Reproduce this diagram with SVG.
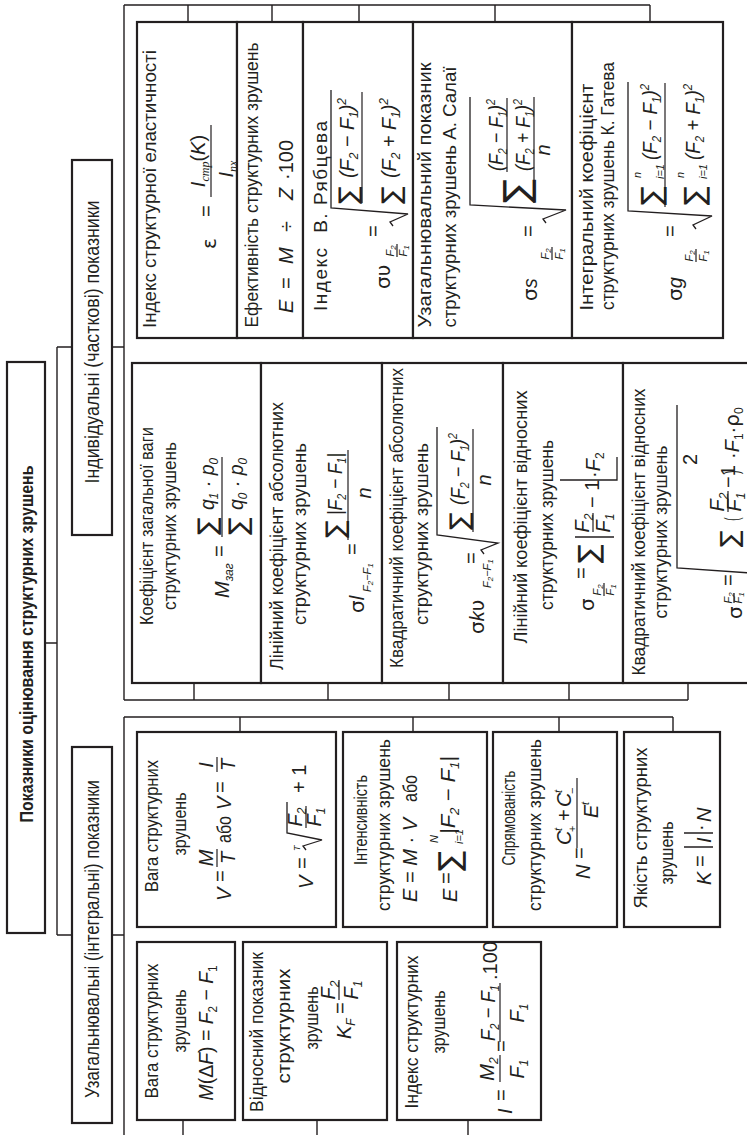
<svg xmlns="http://www.w3.org/2000/svg" width="747" height="1135" viewBox="0 0 747 1135">
<style>
.bx{fill:#fff;stroke:#231f20;stroke-width:2.2}
.ln{fill:none;stroke:#231f20;stroke-width:1.4}
.rl{fill:none;stroke:#231f20;stroke-width:1.3}
.fl{stroke:#231f20;stroke-width:1.2}
text{fill:#231f20;font-family:"Liberation Sans",Arial,sans-serif}
.t{font-size:19px;text-anchor:middle}
.h{font-size:20px;text-anchor:middle}
.f{font-size:20px}
.m{text-anchor:middle}
.i{font-style:italic}
.sb{font-size:12px;baseline-shift:-4px}
.sp{font-size:12px;baseline-shift:8px}
.s{font-size:11px}
.sg{font-family:"DejaVu Sans",sans-serif}
.gr{font-family:"DejaVu Sans","Liberation Sans",sans-serif}
.ss{font-size:8px;baseline-shift:-2px}
</style>
<rect x="0" y="0" width="747" height="1135" fill="#fff"/>
<g transform="translate(0,1135) rotate(-90)">
<g id="connectors" class="ln">
<path d="M200 57H788M492 45V57M788 57V72M788 112V124M200 57V72M200 112V124"/>
<path d="M435 124H1130M1130 124V650M1130 188H1113M1130 272H1113M1130 359H1113M1130 495H1113M1130 650H1113"/>
<path d="M435 124V688M435 194H452M435 328H452M435 449H452M435 569H452M435 688H452"/>
<path d="M-5 124H418M418 124V673M418 240H403M418 413H403M418 559H403M418 673H403"/>
<path d="M15 183H-5M15 317H-5M15 468H-5"/>
</g>
<g id="title"><rect class="bx" x="202" y="7" width="571" height="38"/><text x="491" y="33" text-anchor="middle" font-size="17.5" font-weight="bold" textLength="357" lengthAdjust="spacingAndGlyphs">Показники оцінювання структурних зрушень</text></g>
<g id="label-individual"><rect class="bx" x="600" y="72" width="375" height="40"/><text class="h" x="793" y="99" textLength="283" lengthAdjust="spacingAndGlyphs">Індивідуальні (часткові) показники</text></g>
<g id="label-integral"><rect class="bx" x="12" y="72" width="376" height="40"/><text class="h" x="196" y="99" textLength="318" lengthAdjust="spacingAndGlyphs">Узагальнювальні (інтегральні) показники</text></g>

<g id="node-elasticity"><rect class="bx" x="797" y="137" width="316" height="100"/>
<text class="t" x="946" y="156" textLength="278" lengthAdjust="spacingAndGlyphs">Індекс структурної еластичності</text>
<text class="f gr" x="886" y="216" font-size="22">ε</text>
<text class="f" x="918" y="213">=</text>
<text class="f m" x="974" y="205"><tspan class="i">I</tspan><tspan class="sb i" font-family="Liberation Serif">стр</tspan>(<tspan class="i">K</tspan>)</text>
<line class="fl" x1="938" y1="211" x2="1010" y2="211"/>
<text class="f m" x="966" y="233"><tspan class="i">I</tspan><tspan class="sb i" font-family="Liberation Serif">пх</tspan></text>
</g>

<g id="node-efficiency"><rect class="bx" x="797" y="237" width="316" height="66"/>
<text class="t" x="950" y="258" textLength="285" lengthAdjust="spacingAndGlyphs">Ефективність структурних зрушень</text>
<text class="f i" x="822" y="293" font-size="21">E</text>
<text class="f" x="846" y="293">=</text>
<text class="f i" x="871" y="293" font-size="21">M</text>
<text class="f" x="903" y="293">÷</text>
<text class="f i" x="935" y="293" font-size="21">Z</text>
<text class="f" x="955" y="293" font-size="21">·100</text>
</g>

<g id="node-ryabtsev"><rect class="bx" x="797" y="303" width="316" height="110"/>
<text class="t" x="919" y="327" xml:space="preserve" textLength="190" lengthAdjust="spacing">Індекс  В. Рябцева</text>
<text class="f gr" x="846" y="390" font-size="21">συ</text>
<text class="s i m" x="884" y="394">F<tspan class="ss">2</tspan></text><line class="fl" x1="878" y1="397" x2="891" y2="397"/><text class="s i m" x="884" y="407">F<tspan class="ss">1</tspan></text>
<text class="f" x="898" y="380">=</text>
<path class="rl" d="M909 393L913 390L921 408L927 331H1045"/>
<text class="sg" x="931" y="357" font-size="26">∑</text>
<text class="f i" x="957" y="354" textLength="80" lengthAdjust="spacingAndGlyphs">(F<tspan class="sb">2</tspan> − F<tspan class="sb">1</tspan>)<tspan class="sp">2</tspan></text>
<line class="fl" x1="932" y1="362" x2="1043" y2="362"/>
<text class="sg" x="931" y="400" font-size="26">∑</text>
<text class="f i" x="957" y="396" textLength="80" lengthAdjust="spacingAndGlyphs">(F<tspan class="sb">2</tspan> + F<tspan class="sb">1</tspan>)<tspan class="sp">2</tspan></text>
</g>

<g id="node-salai"><rect class="bx" x="797" y="413" width="316" height="159"/>
<text class="t" x="940" y="431" textLength="265" lengthAdjust="spacingAndGlyphs">Узагальнювальний показник</text>
<text class="t" x="938" y="456" textLength="261" lengthAdjust="spacingAndGlyphs">структурних зрушень А. Салаї</text>
<text class="f" x="834" y="537" font-size="21"><tspan class="gr">σ</tspan><tspan class="i">s</tspan></text>
<text class="s i m" x="881" y="549">F<tspan class="ss">2</tspan></text><line class="fl" x1="875" y1="552" x2="888" y2="552"/><text class="s i m" x="881" y="563">F<tspan class="ss">1</tspan></text>
<text class="f" x="898" y="535">=</text>
<path class="rl" d="M912 546L916 543L925 566L930 470H1038"/>
<text class="sg" x="932" y="529" font-size="36">∑</text>
<text class="f i m" x="1000" y="503" font-size="17" textLength="72" lengthAdjust="spacingAndGlyphs">(F<tspan class="sb">2</tspan> − F<tspan class="sb">1</tspan>)<tspan class="sp">2</tspan></text>
<line class="fl" x1="963" y1="507" x2="1037" y2="507"/>
<text class="f i m" x="1000" y="530" font-size="17" textLength="72" lengthAdjust="spacingAndGlyphs">(F<tspan class="sb">2</tspan> + F<tspan class="sb">1</tspan>)<tspan class="sp">2</tspan></text>
<line class="fl" x1="932" y1="534" x2="1038" y2="534"/>
<text class="f i m" x="985" y="550">n</text>
</g>

<g id="node-gatev"><rect class="bx" x="797" y="572" width="316" height="151"/>
<text class="t" x="938" y="593" textLength="227" lengthAdjust="spacingAndGlyphs">Інтегральний коефіцієнт</text>
<text class="t" x="949" y="614" textLength="248" lengthAdjust="spacingAndGlyphs">структурних зрушень К. Гатева</text>
<text class="f" x="834" y="682" font-size="21"><tspan class="gr">σ</tspan><tspan class="i">g</tspan></text>
<text class="s i m" x="879" y="693">F<tspan class="ss">2</tspan></text><line class="fl" x1="873" y1="696" x2="886" y2="696"/><text class="s i m" x="879" y="707">F<tspan class="ss">1</tspan></text>
<text class="f" x="898" y="677">=</text>
<path class="rl" d="M906 696L910 693L919 712L924 628H1053"/>
<text class="sg" x="930" y="661" font-size="28">∑</text>
<text class="s i" x="957" y="641" font-size="10">n</text>
<text class="s i" x="956" y="664" font-size="9">i=1</text>
<text class="f i" x="975" y="657" font-size="17" textLength="76" lengthAdjust="spacingAndGlyphs">(F<tspan class="sb">2</tspan> − F<tspan class="sb">1</tspan>)<tspan class="sp">2</tspan></text>
<line class="fl" x1="928" y1="665" x2="1052" y2="665"/>
<text class="sg" x="930" y="704" font-size="28">∑</text>
<text class="s i" x="957" y="684" font-size="10">n</text>
<text class="s i" x="956" y="707" font-size="9">i=1</text>
<text class="f i" x="975" y="700" font-size="17" textLength="76" lengthAdjust="spacingAndGlyphs">(F<tspan class="sb">2</tspan> + F<tspan class="sb">1</tspan>)<tspan class="sp">2</tspan></text>
</g>

<g id="node-mzag"><rect class="bx" x="452" y="132" width="320" height="129"/>
<text class="t" x="609" y="153" textLength="198" lengthAdjust="spacingAndGlyphs">Коефіцієнт загальної ваги</text>
<text class="t" x="609" y="176" textLength="168" lengthAdjust="spacingAndGlyphs">структурних зрушень</text>
<text class="f" x="537" y="229" font-size="21"><tspan class="i">M</tspan><tspan class="sb i">заг</tspan></text>
<text class="f" x="578" y="226">=</text>
<line class="fl" x1="598" y1="222" x2="678" y2="222"/>
<text class="sg" x="600" y="216" font-size="26">∑</text>
<text class="f i" x="625" y="214" textLength="52" lengthAdjust="spacingAndGlyphs">q<tspan class="sb">1</tspan> · p<tspan class="sb">0</tspan></text>
<text class="sg" x="600" y="247" font-size="26">∑</text>
<text class="f i" x="625" y="243" textLength="52" lengthAdjust="spacingAndGlyphs">q<tspan class="sb">0</tspan> · p<tspan class="sb">0</tspan></text>
</g>

<g id="node-lin-abs"><rect class="bx" x="452" y="261" width="320" height="121"/>
<text class="t" x="599" y="283" textLength="268" lengthAdjust="spacingAndGlyphs">Лінійний коефіцієнт абсолютних</text>
<text class="t" x="601" y="306" textLength="182" lengthAdjust="spacingAndGlyphs">структурних зрушень</text>
<text class="f" x="522" y="364" font-size="21"><tspan class="gr">σ</tspan><tspan class="i">l</tspan></text>
<text class="s i" x="543" y="371">F<tspan class="ss">2</tspan>−F<tspan class="ss">1</tspan></text>
<text class="f" x="580" y="359">=</text>
<line class="fl" x1="595" y1="348" x2="685" y2="348"/>
<text class="sg" x="597" y="344" font-size="26">∑</text>
<text class="f i" x="620" y="342" textLength="62" lengthAdjust="spacingAndGlyphs">|F<tspan class="sb">2</tspan> − F<tspan class="sb">1</tspan>|</text>
<text class="f i m" x="642" y="371">n</text>
</g>

<g id="node-quad-abs"><rect class="bx" x="452" y="382" width="320" height="121"/>
<text class="t" x="617" y="403" textLength="300" lengthAdjust="spacingAndGlyphs">Квадратичний коефіцієнт абсолютних</text>
<text class="t" x="601" y="428" textLength="182" lengthAdjust="spacingAndGlyphs">структурних зрушень</text>
<text class="f" x="501" y="484" font-size="21"><tspan class="gr">σ</tspan><tspan class="i">k</tspan><tspan class="gr">υ</tspan></text>
<text class="s i" x="547" y="491">F<tspan class="ss">2</tspan>−F<tspan class="ss">1</tspan></text>
<text class="f" x="571" y="478">=</text>
<path class="rl" d="M581 484L585 481L592 498L600 437H708"/>
<text class="sg" x="605" y="468" font-size="26">∑</text>
<text class="f i" x="630" y="465" textLength="72" lengthAdjust="spacingAndGlyphs">(F<tspan class="sb">2</tspan> − F<tspan class="sb">1</tspan>)<tspan class="sp">2</tspan></text>
<line class="fl" x1="603" y1="473" x2="706" y2="473"/>
<text class="f i m" x="655" y="491">n</text>
</g>

<g id="node-lin-rel"><rect class="bx" x="452" y="503" width="320" height="120"/>
<text class="t" x="618" y="527" textLength="253" lengthAdjust="spacingAndGlyphs">Лінійний коефіцієнт відносних</text>
<text class="t" x="610" y="553" textLength="170" lengthAdjust="spacingAndGlyphs">структурних зрушень</text>
<text class="f gr" x="524" y="594" font-size="22">σ</text>
<text class="s i m" x="545" y="601">F<tspan class="ss">2</tspan></text><line class="fl" x1="539" y1="604" x2="552" y2="604"/><text class="s i m" x="545" y="614">F<tspan class="ss">1</tspan></text>
<text class="f" x="556" y="588">=</text>
<text class="sg" x="572" y="598" font-size="28">∑</text>
<path class="rl" d="M598 575V614M655 560V617H678"/>
<text class="f i m" x="612" y="589" font-size="17">F<tspan class="sb">2</tspan></text>
<line class="fl" x1="603" y1="593" x2="622" y2="593"/>
<text class="f i m" x="612" y="610" font-size="17">F<tspan class="sb">1</tspan></text>
<text class="f" x="627" y="599" font-size="19">− 1</text>
<text class="f" x="657" y="600" font-size="19">·<tspan class="i">F</tspan><tspan class="sb">2</tspan></text>
</g>

<g id="node-quad-rel"><rect class="bx" x="452" y="623" width="320" height="140"/>
<text class="t" x="603" y="645" textLength="287" lengthAdjust="spacingAndGlyphs">Квадратичний коефіцієнт відносних</text>
<text class="t" x="603" y="667" textLength="173" lengthAdjust="spacingAndGlyphs">структурних зрушень</text>
<text class="f gr" x="516" y="742" font-size="20">σ</text>
<text class="s i m" x="537" y="732" font-size="8">F<tspan class="ss">2</tspan></text><line class="fl" x1="532" y1="734" x2="542" y2="734"/><text class="s i m" x="537" y="742" font-size="8">F<tspan class="ss">1</tspan></text>
<text class="f" x="549" y="735">=</text>
<path class="rl" d="M561 765L567 677H730"/>
<text class="sg" x="588" y="738" font-size="25">∑</text>
<text class="f" transform="translate(614,739) scale(0.55,1)" font-size="44">(</text>
<text class="f i m" x="633" y="724" font-size="15">F<tspan class="sb">2</tspan></text>
<line class="fl" x1="623" y1="728" x2="644" y2="728"/>
<text class="f i m" x="633" y="741" font-size="15">F<tspan class="sb">1</tspan></text>
<text class="f" x="647" y="735" font-size="18">−1</text>
<text class="f" transform="translate(661,739) scale(0.55,1)" font-size="44">)</text>
<text class="f" x="670" y="697" font-size="13">2</text>
<text class="f" x="676" y="739" font-size="18">·<tspan class="i">F</tspan><tspan class="sb">1</tspan>·<tspan class="gr">ρ</tspan><tspan class="sb">0</tspan></text>
</g>

<g id="node-vaga-v"><rect class="bx" x="208" y="137" width="195" height="199"/>
<text class="t" x="309" y="158" textLength="132" lengthAdjust="spacingAndGlyphs">Вага структурних</text>
<text class="t" x="311" y="186" textLength="63" lengthAdjust="spacingAndGlyphs">зрушень</text>
<text class="f i" x="234" y="231" font-size="21">V</text>
<text class="f" x="253" y="227">=</text>
<text class="f i m" x="277" y="213">M</text>
<line class="fl" x1="268" y1="217" x2="286" y2="217"/>
<text class="f i m" x="277" y="235">T</text>
<text class="f" x="292" y="231" font-size="19" textLength="27" lengthAdjust="spacingAndGlyphs">або</text>
<text class="f i" x="325" y="231" font-size="21">V</text>
<text class="f" x="342" y="227">=</text>
<text class="f i m" x="370" y="213">I</text>
<line class="fl" x1="363" y1="217" x2="378" y2="217"/>
<text class="f i m" x="370" y="235">T</text>
<text class="f i" x="246" y="313" font-size="21">V</text>
<text class="f" x="266" y="309">=</text>
<text class="i" x="284" y="300" font-size="9">T</text>
<path class="rl" d="M285 306L289 303L295 322L302 287H333"/>
<text class="f i m" x="318" y="302" font-size="16">F<tspan class="sb">2</tspan></text>
<line class="fl" x1="307" y1="306" x2="329" y2="306"/>
<text class="f i m" x="318" y="321" font-size="16">F<tspan class="sb">1</tspan></text>
<text class="f" x="342" y="306">+ 1</text>
</g>

<g id="node-intensity"><rect class="bx" x="208" y="343" width="195" height="144"/>
<text class="t" x="315" y="367" textLength="90" lengthAdjust="spacingAndGlyphs">Інтенсивність</text>
<text class="t" x="310" y="390" textLength="172" lengthAdjust="spacingAndGlyphs">структурних зрушень</text>
<text class="f" x="233" y="417" textLength="84" lengthAdjust="spacingAndGlyphs"><tspan class="i">E</tspan> = <tspan class="i">M</tspan> · <tspan class="i">V</tspan></text>
<text class="f" x="333" y="417" font-size="19" textLength="27" lengthAdjust="spacingAndGlyphs">або</text>
<text class="f i" x="233" y="457" font-size="21">E</text>
<text class="f" x="251" y="453">=</text>
<text class="sg" x="264" y="460" font-size="30">∑</text>
<text class="s i" x="292" y="438" font-size="10">N</text>
<text class="s i" x="291" y="463" font-size="9">i=1</text>
<text class="f i" x="301" y="455" textLength="78" lengthAdjust="spacingAndGlyphs">|F<tspan class="sb">2</tspan> − F<tspan class="sb">1</tspan>|</text>
</g>

<g id="node-direction"><rect class="bx" x="208" y="493" width="195" height="124"/>
<text class="t" x="317" y="515" textLength="95" lengthAdjust="spacingAndGlyphs">Спрямованість</text>
<text class="t" x="310" y="541" textLength="172" lengthAdjust="spacingAndGlyphs">структурних зрушень</text>
<text class="f i" x="256" y="590" font-size="21">N</text>
<text class="f" x="276" y="586">=</text>
<line class="fl" x1="287" y1="577" x2="357" y2="577"/>
<text class="f i" x="290" y="571" font-size="19">C</text>
<text class="s i" x="304" y="562" font-size="10">t</text>
<text class="s" x="303" y="576" font-size="10">+</text>
<text class="f" x="314" y="571" font-size="19">+</text>
<text class="f i" x="328" y="571" font-size="19">C</text>
<text class="s i" x="342" y="562" font-size="10">t</text>
<text class="s" x="341" y="576" font-size="10">−</text>
<text class="f i" x="317" y="598" font-size="19">E</text>
<text class="s i" x="330" y="589" font-size="10">t</text>
</g>

<g id="node-quality"><rect class="bx" x="208" y="624" width="195" height="96"/>
<text class="t" x="307" y="647" textLength="161" lengthAdjust="spacingAndGlyphs">Якість структурних</text>
<text class="t" x="282" y="673" textLength="63" lengthAdjust="spacingAndGlyphs">зрушень</text>
<text class="f i" x="250" y="711" font-size="21">K</text>
<text class="f" x="268" y="707">=</text>
<path class="rl" d="M288 684V713M302 684V713"/>
<text class="f i" x="292" y="711">I</text>
<text class="f" x="304" y="707">·</text>
<text class="f i" x="313" y="711">N</text>
</g>

<g id="node-vaga-m"><rect class="bx" x="15" y="137" width="178" height="98"/>
<text class="t" x="104" y="158" textLength="135" lengthAdjust="spacingAndGlyphs">Вага структурних</text>
<text class="t" x="114" y="186" textLength="63" lengthAdjust="spacingAndGlyphs">зрушень</text>
<text class="f m" x="102" y="213" textLength="135" lengthAdjust="spacingAndGlyphs"><tspan class="i">M</tspan>(Δ<tspan class="i">F</tspan>) = <tspan class="i">F</tspan><tspan class="sb">2</tspan> − <tspan class="i">F</tspan><tspan class="sb">1</tspan></text>
</g>

<g id="node-relative"><rect class="bx" x="15" y="243" width="178" height="144"/>
<text class="t" x="103" y="263" textLength="160" lengthAdjust="spacingAndGlyphs">Відносний показник</text>
<text class="t" x="109" y="290" textLength="115" lengthAdjust="spacingAndGlyphs">структурних</text>
<text class="t" x="117" y="318" textLength="63" lengthAdjust="spacingAndGlyphs">зрушень</text>
<text class="f" x="96" y="351"><tspan class="i">K</tspan><tspan class="sb i">F</tspan></text>
<text class="f" x="121" y="347">=</text>
<text class="f i m" x="145" y="335">F<tspan class="sb">2</tspan></text>
<line class="fl" x1="135" y1="339" x2="155" y2="339"/>
<text class="f i m" x="145" y="358">F<tspan class="sb">1</tspan></text>
</g>

<g id="node-index"><rect class="bx" x="15" y="397" width="178" height="144"/>
<text class="t" x="103" y="418" textLength="153" lengthAdjust="spacingAndGlyphs">Індекс структурних</text>
<text class="t" x="113" y="445" textLength="63" lengthAdjust="spacingAndGlyphs">зрушень</text>
<text class="f i" x="21" y="512">I</text>
<text class="f" x="34" y="508">=</text>
<text class="f i m" x="66" y="494">M<tspan class="sb">2</tspan></text>
<line class="fl" x1="53" y1="500" x2="80" y2="500"/>
<text class="f i m" x="66" y="524">F<tspan class="sb">1</tspan></text>
<text class="f" x="83" y="508">=</text>
<text class="f i m" x="122" y="495" textLength="56" lengthAdjust="spacingAndGlyphs">F<tspan class="sb">2</tspan> − F<tspan class="sb">1</tspan></text>
<line class="fl" x1="93" y1="500" x2="152" y2="500"/>
<text class="f i m" x="122" y="524">F<tspan class="sb">1</tspan></text>
<text class="f" x="155" y="497" font-size="19">.100</text>
</g>
</g>
</svg>
